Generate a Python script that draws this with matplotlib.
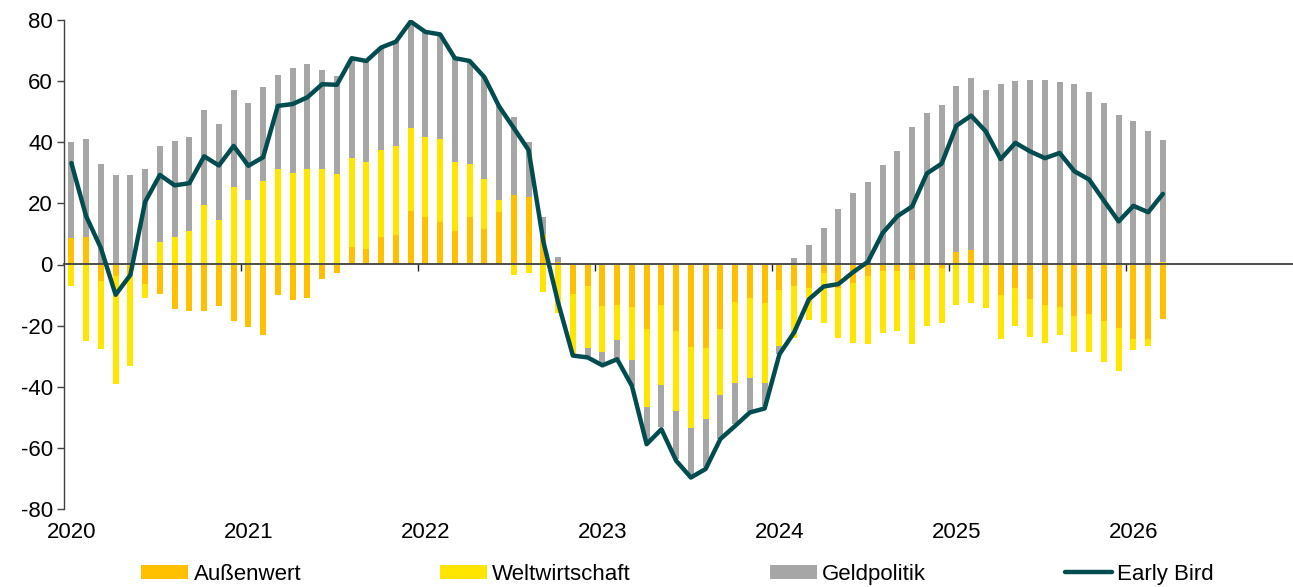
import numpy as np
import matplotlib
matplotlib.use("Agg")
from matplotlib import pyplot as plt

plt.rcParams['font.family'] = ['Liberation Sans', 'DejaVu Sans']
plt.rcParams['axes.unicode_minus'] = False

# Monatsdaten Jan 2020 - Mär 2026
aussenwert = [8.7, 8.9, -5.3, -3.7, -3.4, -6.3, -9.7, -14.4, -15.3, -15.3, -13.7, -18.5,
              -20.6, -23.2, -10.1, -11.7, -10.9, -4.6, -2.8, 5.8, 5.0, 8.9, 9.8, 17.4,
              15.7, 14.0, 10.9, 15.7, 11.5, 17.1, 22.6, 22.1, 10.1, 0.9, -9.5, -7.1,
              -13.5, -13.4, -14.0, -21.2, -13.4, -21.6, -27.0, -27.4, -21.2, -12.3, -10.9, -12.5,
              -8.4, -6.9, -7.6, -2.9, -7.6, -6.0, -3.6, -2.2, -2.2, -5.2, -0.3, -1.3,
              4.0, 4.8, -0.3, -10.1, -7.6, -11.4, -13.1, -13.8, -17.0, -16.3, -18.6, -20.9,
              -24.3, -24.3, -17.7]
weltwirtschaft = [-7.0, -24.9, -22.3, -35.5, -29.8, -4.5, 7.4, 9.1, 11.1, 19.5, 14.6, 25.4,
                  21.2, 27.2, 31.3, 30.0, 31.3, 31.1, 29.6, 29.1, 28.5, 28.5, 29.1, 27.4,
                  26.1, 27.0, 22.7, 17.2, 16.5, 4.1, -3.3, -2.7, -8.9, -16.0, -20.3, -20.3,
                  -15.1, -11.3, -17.2, -25.3, -26.1, -26.4, -26.4, -23.2, -21.4, -26.4, -26.3, -26.2,
                  -18.3, -17.3, -10.4, -16.1, -16.3, -19.8, -22.5, -20.1, -19.4, -20.7, -19.9, -18.0,
                  -13.1, -12.5, -13.8, -14.2, -12.6, -12.2, -12.7, -9.3, -11.7, -12.3, -13.4, -13.8,
                  -3.7, -2.5, 0.9]
geldpolitik = [31.3, 32.2, 33.0, 29.2, 29.4, 31.2, 31.5, 31.2, 30.7, 31.0, 31.5, 31.7,
               31.7, 30.9, 30.6, 34.3, 34.4, 32.5, 32.0, 32.6, 33.1, 33.6, 34.0, 34.7,
               34.4, 34.3, 33.9, 33.7, 33.3, 30.5, 25.5, 17.9, 5.5, 1.4, -0.3, -2.6,
               -3.5, -6.1, -8.5, -11.7, -13.8, -15.7, -15.7, -15.8, -14.5, -13.5, -10.7, -7.6,
               -2.5, 2.2, 6.5, 12.0, 18.0, 23.5, 26.9, 32.7, 37.0, 45.0, 49.5, 52.2,
               54.3, 56.3, 57.1, 58.9, 60.1, 60.5, 60.5, 59.6, 59.1, 56.4, 52.8, 48.8,
               47.0, 43.8, 39.9]
early_bird = [33.2, 15.8, 5.4, -9.9, -3.4, 20.5, 29.3, 25.9, 26.6, 35.4, 32.4, 38.8,
              32.3, 35.1, 51.9, 52.5, 54.7, 59.0, 58.8, 67.5, 66.6, 71.0, 72.9, 79.5,
              76.1, 75.3, 67.5, 66.6, 61.3, 51.7, 44.6, 37.4, 7.5, -12.5, -29.8, -30.4,
              -33.0, -31.0, -39.7, -58.8, -53.9, -64.2, -69.7, -66.9, -57.1, -52.8, -48.4, -47.1,
              -29.4, -22.2, -11.4, -7.2, -6.4, -2.5, 0.9, 10.3, 15.8, 19.0, 29.8, 33.0,
              45.4, 48.7, 43.5, 34.5, 39.8, 37.0, 34.8, 36.5, 30.5, 27.8, 20.9, 14.1,
              19.2, 17.1, 23.1]
jahre = ['2020', '2021', '2022', '2023', '2024', '2025', '2026']

serien = [('Außenwert', aussenwert, '#FFC000'),
          ('Weltwirtschaft', weltwirtschaft, '#FFE600'),
          ('Geldpolitik', geldpolitik, '#A6A6A6')]

fig = plt.figure(figsize=(12.93, 5.87), dpi=100)
ax = fig.add_axes([64/1293, 78/587, 1229/1293, 489/587])

x = np.arange(len(early_bird))
pos_base = np.zeros(len(x))
neg_base = np.zeros(len(x))
handles = []
for name, vals, col in serien:
    v = np.array(vals)
    bottom = np.where(v >= 0, pos_base, neg_base)
    b = ax.bar(x, v, 0.42, bottom=bottom, color=col, label=name, zorder=2)
    handles.append(b)
    pos_base = pos_base + np.clip(v, 0, None)
    neg_base = neg_base + np.clip(v, None, 0)

ln, = ax.plot(x, early_bird, color='#004C4F', lw=3.2, label='Early Bird',
              solid_joinstyle='round', solid_capstyle='round', zorder=4)
handles.append(ln)

ax.set_ylim(-80, 80)
ax.set_xlim(-0.5, 82.82)
ax.set_yticks(range(-80, 81, 20))
ax.tick_params(axis='y', labelsize=16, length=5, width=1, color='#404040', pad=3)
ax.set_xticks(range(0, 84, 12))
ax.set_xticklabels(jahre)
ax.tick_params(axis='x', labelsize=16, length=0, pad=9)
for s in ['top', 'right', 'bottom']:
    ax.spines[s].set_visible(False)
ax.spines['left'].set_color('#404040')
ax.spines['left'].set_linewidth(1)

# Nulllinie mit Jahresmarken
sec = ax.secondary_xaxis(0.5)
sec.set_xticks(np.arange(11.5, 84, 12))
sec.set_xticklabels([])
sec.tick_params(axis='x', direction='in', length=5, width=1, color='#202020',
                labelbottom=False, labeltop=False)
for s in sec.spines.values():
    s.set_color('#404040')
    s.set_linewidth(1.3)
sec.set_zorder(3)

fig.legend(handles=handles, labels=[h.get_label() for h in handles],
           loc='center', bbox_to_anchor=(0.524, 0.022), ncol=4, frameon=False,
           fontsize=16, handlelength=2.1, handleheight=0.6, handletextpad=0.25,
           columnspacing=6.25)

fig.savefig('out.png', dpi=100)
